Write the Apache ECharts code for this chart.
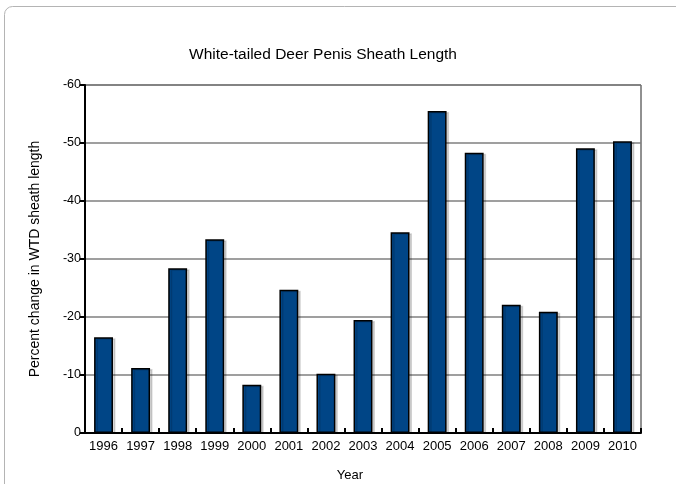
<!DOCTYPE html>
<html>
<head>
<meta charset="utf-8">
<script src="https://cdn.jsdelivr.net/npm/echarts@6/dist/echarts.min.js"></script>
<style>html,body{margin:0;padding:0;background:#fff}#c{width:676px;height:484px}</style>
</head>
<body>
<div id="c"></div>
<script>
var years = ['1996','1997','1998','1999','2000','2001','2002','2003','2004','2005','2006','2007','2008','2009','2010'];
var percentChange = [-16.5, -11.2, -28.4, -33.4, -8.3, -24.7, -10.2, -19.5, -34.6, -55.5, -48.3, -22.1, -20.9, -49.1, -50.3];
var yTicks = [-60, -50, -40, -30, -20, -10, 0];

var chart = echarts.init(document.getElementById('c'), null, {renderer: 'canvas'});
var font = '"Liberation Sans", Arial, sans-serif';
chart.setOption({
  animation: false,
  backgroundColor: '#fff',
  graphic: [{
    type: 'rect',
    shape: {x: 4.5, y: 6.5, width: 720, height: 520, r: 8},
    style: {fill: 'none', stroke: '#b4b4b4', lineWidth: 1},
    silent: true
  }],
  title: {
    text: 'White-tailed Deer Penis Sheath Length',
    left: 318, top: 42, textAlign: 'center',
    textStyle: {fontFamily: font, fontSize: 15.5, fontWeight: 'normal', color: '#000'}
  },
  grid: {left: 85, right: 35, top: 85, bottom: 51, show: true, borderColor: '#222', borderWidth: 1, backgroundColor: 'transparent', containLabel: false, outerBoundsMode: 'none'},
  xAxis: {
    type: 'category',
    data: years,
    name: 'Year',
    nameLocation: 'middle',
    nameGap: 36,
    nameTextStyle: {fontFamily: font, fontSize: 13, color: '#000', padding: [0, 26, 0, 0]},
    axisLine: {lineStyle: {color: '#000', width: 2}},
    axisTick: {show: true, inside: true, length: 5, alignWithLabel: false, lineStyle: {color: '#000', width: 2}},
    axisLabel: {interval: 0, fontFamily: font, fontSize: 13, color: '#000', margin: 7},
    splitLine: {show: false}
  },
  yAxis: {
    type: 'value',
    inverse: true,
    min: yTicks[0], max: yTicks[yTicks.length - 1], interval: 10,
    name: 'Percent change in WTD sheath length',
    nameLocation: 'middle',
    nameGap: 43,
    nameTextStyle: {fontFamily: font, fontSize: 14, color: '#000'},
    axisLine: {show: true, lineStyle: {color: '#000', width: 2}},
    axisTick: {show: true, length: 5, lineStyle: {color: '#000', width: 2}},
    axisLabel: {fontFamily: font, fontSize: 12.5, color: '#000', margin: 4},
    splitLine: {show: true, lineStyle: {color: '#7f7f7f', width: 1.5}}
  },
  series: [{
    type: 'bar',
    data: percentChange,
    barWidth: '51%',
    itemStyle: {
      color: '#004586',
      borderColor: '#000',
      borderWidth: 1.5,
      shadowColor: 'rgba(0,0,0,0.15)',
      shadowOffsetX: 2.5,
      shadowOffsetY: 1,
      shadowBlur: 0
    }
  }]
});
</script>
</body>
</html>
